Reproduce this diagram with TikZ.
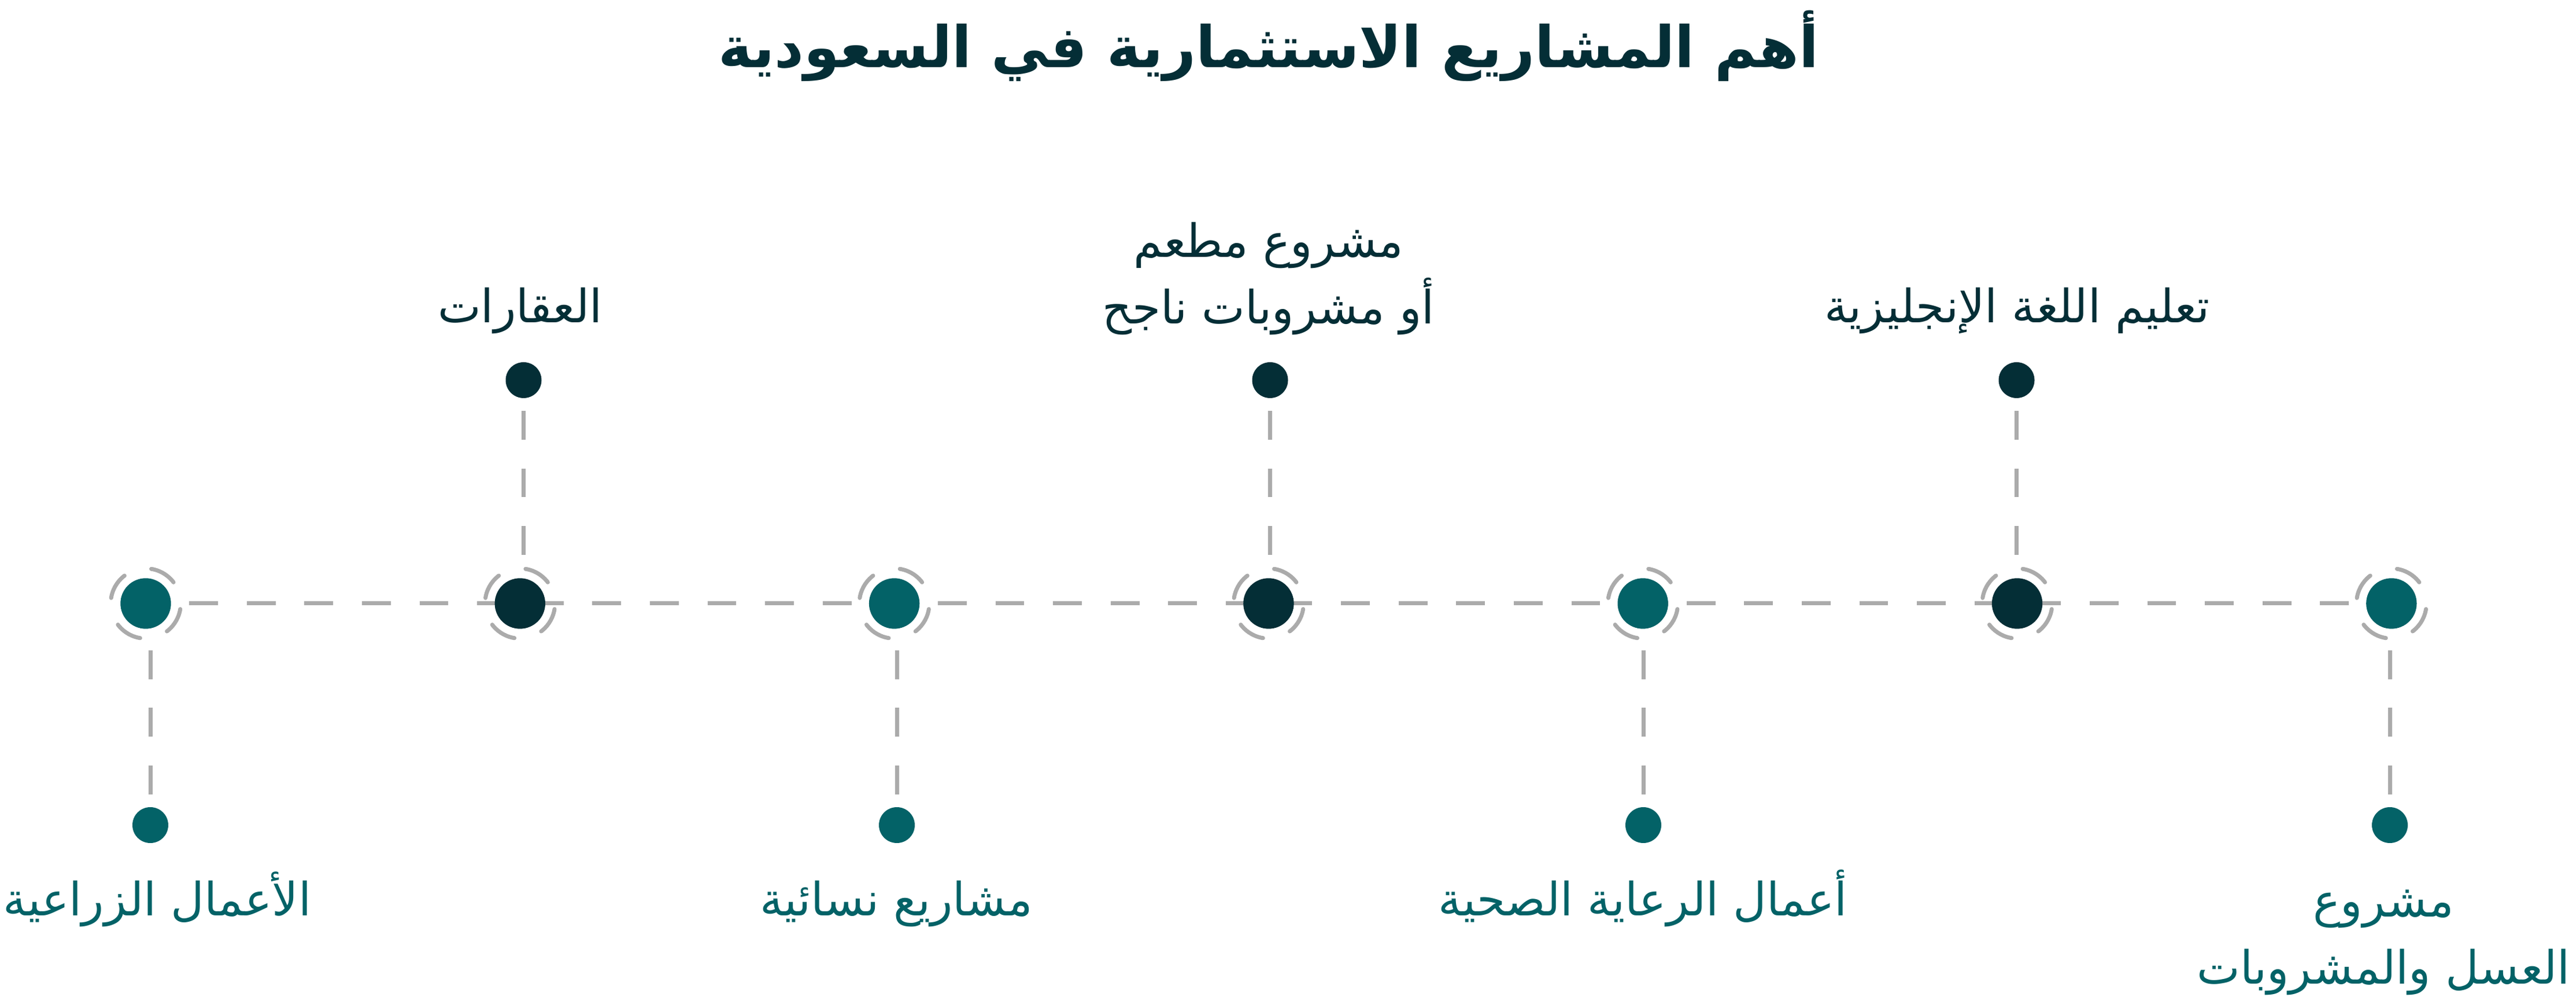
\documentclass[tikz,border=0pt]{standalone}
\usepackage{fontspec}
\newfontfamily\arabicfont[Script=Arabic]{DejaVu Sans}
\TeXXeTstate=1
\usetikzlibrary{backgrounds}

\definecolor{saudidark}{RGB}{4,46,54}
\definecolor{sauditeal}{RGB}{3,98,103}
\definecolor{dashgray}{RGB}{171,171,171}

\begin{document}
\begin{tikzpicture}[font=\arabicfont\fontsize{22.6}{33}\selectfont,
                    line cap=round]
  \tikzstyle{hub}=[circle,inner sep=0pt,minimum size=0.874cm]
  \tikzstyle{pin}=[circle,inner sep=0pt,minimum size=0.62cm]
  \tikzstyle{ring}=[draw=dashgray,line width=0.07cm,dash pattern=on 0.46cm off 0.49cm,dash phase=0.556cm]
  \tikzstyle{link}=[draw=dashgray,line width=0.07cm,dash pattern=on 0.498cm off 0.498cm]
  \tikzstyle{toptext}=[anchor=base,align=center,inner sep=0pt,text=saudidark]
  \tikzstyle{bottext}=[anchor=base,align=center,inner sep=0pt,text=sauditeal]

  \useasboundingbox (0,0) rectangle (44.55,17.29);

  % title
  \node[anchor=base,inner sep=0pt,text=saudidark,font=\arabicfont\bfseries\fontsize{28.2}{36}\selectfont]
       (title) at (21.94,16.12) {\beginR أهم المشاريع الاستثمارية في السعودية\endR};

  % timeline
  \node[hub,fill=sauditeal] (hub1) at (2.52,6.86)   {};
  \node[hub,fill=saudidark] (hub2) at (8.993,6.86)  {};
  \node[hub,fill=sauditeal] (hub3) at (15.466,6.86) {};
  \node[hub,fill=saudidark] (hub4) at (21.939,6.86) {};
  \node[hub,fill=sauditeal] (hub5) at (28.412,6.86) {};
  \node[hub,fill=saudidark] (hub6) at (34.885,6.86) {};
  \node[hub,fill=sauditeal] (hub7) at (41.358,6.86) {};

  \node[pin,fill=sauditeal] (pin1) at (2.60,3.03)   {};
  \node[pin,fill=saudidark] (pin2) at (9.055,10.72) {};
  \node[pin,fill=sauditeal] (pin3) at (15.51,3.03)  {};
  \node[pin,fill=saudidark] (pin4) at (21.965,10.72) {};
  \node[pin,fill=sauditeal] (pin5) at (28.42,3.03)  {};
  \node[pin,fill=saudidark] (pin6) at (34.875,10.72) {};
  \node[pin,fill=sauditeal] (pin7) at (41.33,3.03)  {};

  \foreach \n in {1,...,7}
    \draw[ring] (hub\n.center) circle (0.605);

  % labels
  \node[toptext] (text2) at (8.993,11.71)  {\beginR العقارات\endR};
  \node[toptext] (text4) at (21.939,11.69) {\beginR مشروع مطعم\endR\\\beginR أو مشروبات ناجح\endR};
  \node[toptext] (text6) at (34.885,11.71) {\beginR تعليم اللغة الإنجليزية\endR};

  \node[bottext] (text1) at (2.72,1.47)   {\beginR الأعمال الزراعية\endR};
  \node[bottext] (text3) at (15.5,1.47)   {\beginR مشاريع نسائية\endR};
  \node[bottext] (text5) at (28.412,1.47) {\beginR أعمال الرعاية الصحية\endR};
  \node[bottext] (text7) at (41.22,0.29)  {\beginR مشروع\endR\\\beginR العسل والمشروبات\endR};

  \begin{scope}[on background layer]
    \draw[link,dash phase=0.245cm] (hub1.center) -- (hub7.center);
    \foreach \n in {1,...,7}
      \draw[link,dash phase=0.465cm] (pin\n.center) -- (pin\n.center |- hub\n.center);
  \end{scope}
\end{tikzpicture}
\end{document}
